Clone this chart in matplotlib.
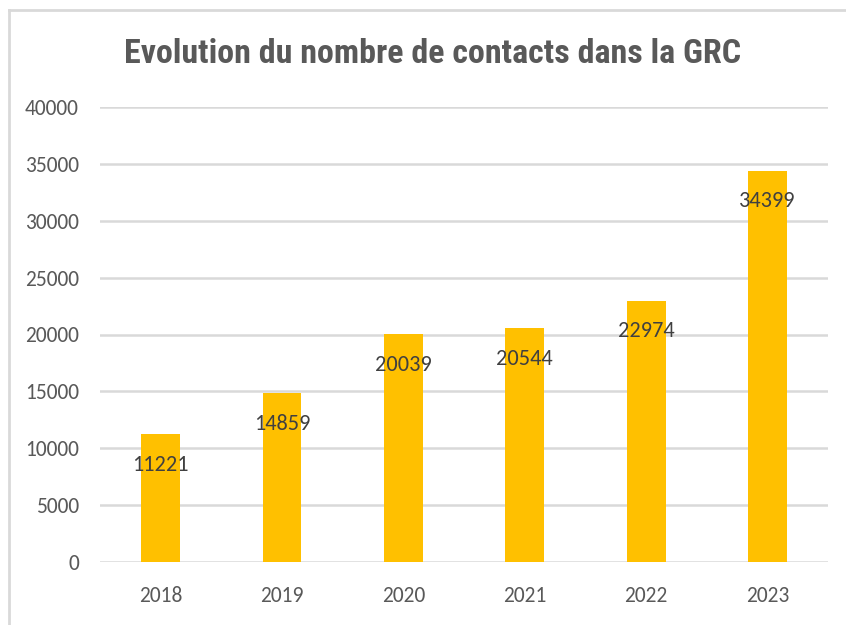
import matplotlib.pyplot as plt
from matplotlib.lines import Line2D

# Data
years = ['2018', '2019', '2020', '2021', '2022', '2023']
contacts = [11221, 14859, 20039, 20544, 22974, 34399]
yticks = [0, 5000, 10000, 15000, 20000, 25000, 30000, 35000, 40000]

body_font = ['Carlito', 'DejaVu Sans']
title_font = ['Roboto Condensed', 'DejaVu Sans']
text_color = '#595959'

fig = plt.figure(figsize=(8.46, 6.25), dpi=100)
ax = fig.add_axes([0.118, 0.1008, 0.861, 0.728])

x = range(len(years))
ax.bar(x, contacts, width=0.32, color='#FFC000', zorder=3)

# Value labels inside the top of each bar
for i, v in zip(x, contacts):
    ax.annotate(str(v), (i, v), xytext=(0, -22), textcoords='offset points',
                ha='center', va='center', fontsize=16, color='#404040',
                family=body_font, zorder=4)

ax.set_ylim(0, 40000)
ax.set_xlim(-0.5, len(years) - 0.5)
ax.set_yticks(yticks)
ax.set_yticklabels([str(t) for t in yticks], family=body_font, fontsize=15.5, color=text_color)
ax.set_xticks(list(x))
ax.set_xticklabels(years, family=body_font, fontsize=15.5, color=text_color)
ax.tick_params(axis='y', length=0, pad=15)
ax.tick_params(axis='x', length=0, pad=17)

ax.grid(axis='y', color='#D9D9D9', linewidth=1.8, zorder=0)
for s in ax.spines.values():
    s.set_visible(False)

fig.text(0.511, 0.913, 'Evolution du nombre de contacts dans la GRC',
         ha='center', va='center', fontsize=24.5, fontweight='bold',
         color=text_color, family=title_font)

# Chart frame (top and left edges)
fig.add_artist(Line2D([0.011, 1.0], [0.984, 0.984], color='#D9D9D9', linewidth=2))
fig.add_artist(Line2D([0.011, 0.011], [0.0, 0.984], color='#D9D9D9', linewidth=2))

fig.savefig('out.png', dpi=100)
